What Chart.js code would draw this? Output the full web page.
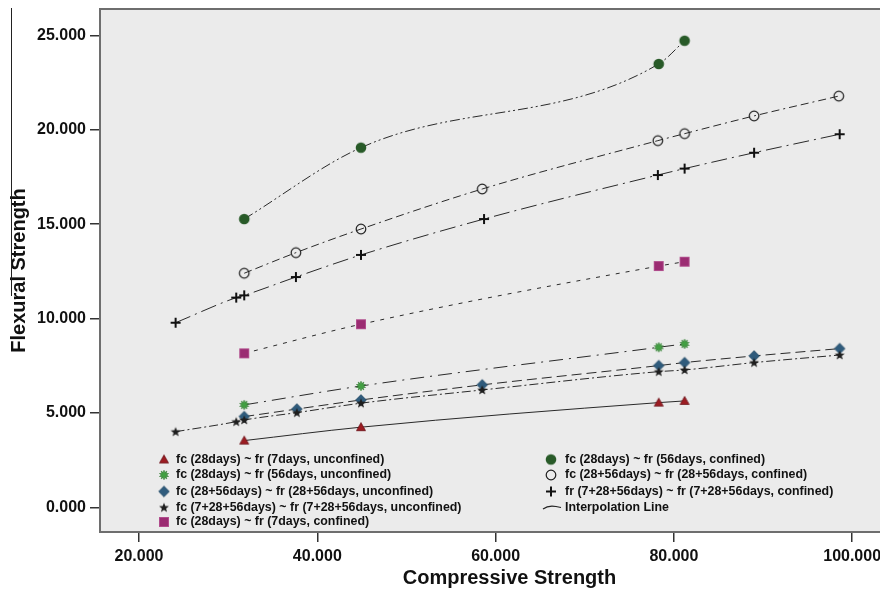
<!DOCTYPE html>
<html>
<head>
<meta charset="utf-8">
<script src="https://cdn.jsdelivr.net/npm/chart.js@4.4.0/dist/chart.umd.min.js"></script>
<style>
  html, body { margin: 0; padding: 0; background: #fff; overflow: hidden; }
  canvas { display: block; }
</style>
</head>
<body>
<canvas id="chart" width="926" height="594"></canvas>
<script>
// axis ticks
const xTicks = [20, 40, 60, 80, 100];
const yTicks = [0, 5, 10, 15, 20, 25];

// fc (28days) ~ fr (7days, unconfined)
const triX = [31.8, 44.9, 78.3, 81.2];
const triY = [3.54, 4.25, 5.55, 5.64];
// fc (28days) ~ fr (56days, unconfined)
const burstX = [31.8, 44.9, 78.3, 81.2];
const burstY = [5.43, 6.43, 8.48, 8.66];
// fc (28+56days) ~ fr (28+56days, unconfined)
const diaX = [31.8, 37.7, 44.9, 58.5, 78.3, 81.2, 89.0, 98.6];
const diaY = [4.81, 5.21, 5.69, 6.49, 7.51, 7.67, 8.02, 8.41];
// fc (7+28+56days) ~ fr (7+28+56days, unconfined)
const starX = [24.1, 30.9, 31.8, 37.7, 44.9, 58.5, 78.3, 81.2, 89.0, 98.6];
const starY = [4.01, 4.54, 4.63, 5.02, 5.52, 6.22, 7.19, 7.28, 7.67, 8.07];
// fc (28days) ~ fr (7days, confined)
const sqX = [31.8, 44.9, 78.3, 81.2];
const sqY = [8.16, 9.70, 12.78, 13.01];
// fc (28days) ~ fr (56days, confined)
const dotX = [31.8, 44.9, 78.3, 81.2];
const dotY = [15.27, 19.05, 23.48, 24.71];
// fc (28+56days) ~ fr (28+56days, confined)
const ringX = [31.8, 37.6, 44.9, 58.5, 78.2, 81.2, 89.0, 98.5];
const ringY = [12.40, 13.49, 14.74, 16.86, 19.42, 19.79, 20.73, 21.78];
// fr (7+28+56days) ~ fr (7+28+56days, confined)
const plusX = [24.1, 30.9, 31.8, 37.6, 44.9, 58.7, 78.2, 81.2, 89.0, 98.6];
const plusY = [9.78, 11.11, 11.23, 12.20, 13.37, 15.27, 17.60, 17.94, 18.78, 19.76];

const labels = [
  'fc (28days) ~ fr (7days, unconfined)',
  'fc (28days) ~ fr (56days, unconfined)',
  'fc (28+56days) ~ fr (28+56days, unconfined)',
  'fc (7+28+56days) ~ fr (7+28+56days, unconfined)',
  'fc (28days) ~ fr (7days, confined)',
  'fc (28days) ~ fr (56days, confined)',
  'fc (28+56days) ~ fr (28+56days, confined)',
  'fr (7+28+56days) ~ fr (7+28+56days, confined)'
];

function starPath(g, cx, cy, n, ro, ri) {
  g.beginPath();
  for (let i = 0; i < n * 2; i++) {
    const r = i % 2 ? ri : ro;
    const a = -Math.PI / 2 + i * Math.PI / n;
    const px = cx + r * Math.cos(a), py = cy + r * Math.sin(a);
    i ? g.lineTo(px, py) : g.moveTo(px, py);
  }
  g.closePath();
}

function marker(kind) {
  const c = document.createElement('canvas');
  c.width = 14; c.height = 14;
  const g = c.getContext('2d');
  if (kind === 'tri') {
    g.beginPath(); g.moveTo(7, 2.5); g.lineTo(11.5, 10.5); g.lineTo(2.5, 10.5); g.closePath();
    g.fillStyle = '#9c1c22'; g.fill(); g.strokeStyle = '#6a1016'; g.lineWidth = 0.8; g.stroke();
  } else if (kind === 'burst') {
    starPath(g, 7, 7, 10, 4.8, 2.6);
    g.fillStyle = '#42a042'; g.fill(); g.strokeStyle = '#2f7a2f'; g.lineWidth = 0.6; g.stroke();
  } else if (kind === 'dia') {
    g.beginPath(); g.moveTo(7, 1.6); g.lineTo(12.4, 7); g.lineTo(7, 12.4); g.lineTo(1.6, 7); g.closePath();
    g.fillStyle = '#2f5b7c'; g.fill(); g.strokeStyle = '#24465f'; g.lineWidth = 0.6; g.stroke();
  } else if (kind === 'star') {
    starPath(g, 7, 7.4, 5, 5.2, 2.2);
    g.fillStyle = '#1e1e1e'; g.fill();
  } else if (kind === 'sq') {
    g.fillStyle = '#9b2c72'; g.fillRect(2, 2, 10, 10);
    g.strokeStyle = '#b65693'; g.lineWidth = 0.8; g.strokeRect(2.4, 2.4, 9.2, 9.2);
  } else if (kind === 'dot') {
    g.beginPath(); g.arc(7, 7, 5.3, 0, Math.PI * 2);
    g.fillStyle = '#285a28'; g.fill();
  } else if (kind === 'ring') {
    g.beginPath(); g.arc(7, 7, 4.8, 0, Math.PI * 2);
    g.strokeStyle = '#1e1e1e'; g.lineWidth = 1.2; g.stroke();
  } else if (kind === 'plus') {
    g.beginPath(); g.moveTo(2, 7); g.lineTo(12, 7); g.moveTo(7, 2); g.lineTo(7, 12);
    g.strokeStyle = '#111'; g.lineWidth = 2; g.stroke();
  }
  return c;
}

const kinds = ['tri', 'burst', 'dia', 'star', 'sq', 'dot', 'ring', 'plus'];
const markers = kinds.map(marker);
const xsAll = [triX, burstX, diaX, starX, sqX, dotX, ringX, plusX];
const ysAll = [triY, burstY, diaY, starY, sqY, dotY, ringY, plusY];
const dashes = [
  [],
  [14, 6, 2, 6],
  [10, 5],
  [9, 3, 2, 3],
  [4, 6],
  [10, 3, 2, 3, 2, 3],
  [8, 4, 8, 4, 2, 4],
  [16, 5, 2, 5]
];

const datasets = kinds.map((k, i) => ({
  label: labels[i],
  data: xsAll[i].map((x, j) => ({ x: x, y: ysAll[i][j] })),
  showLine: true,
  borderColor: '#2a2a2a',
  borderWidth: 1,
  borderDash: dashes[i],
  cubicInterpolationMode: 'monotone',
  pointStyle: markers[i],
  pointRadius: 6,
  order: 8 - i
}));

const frame = {
  id: 'frame',
  beforeDraw(chart) {
    const { ctx, chartArea: a } = chart;
    ctx.save();
    ctx.fillStyle = '#ebebeb';
    ctx.fillRect(a.left, a.top, a.right - a.left, a.bottom - a.top);
    ctx.restore();
  },
  afterDraw(chart) {
    const { ctx, chartArea: a } = chart;
    ctx.save();
    ctx.strokeStyle = '#6e6e6e';
    ctx.lineWidth = 2;
    ctx.beginPath();
    ctx.moveTo(a.right, a.top); ctx.lineTo(a.left, a.top);
    ctx.lineTo(a.left, a.bottom); ctx.lineTo(a.right, a.bottom);
    ctx.stroke();
    // stray rule on the far left
    ctx.strokeStyle = '#222'; ctx.lineWidth = 1;
    ctx.beginPath(); ctx.moveTo(11.5, 8); ctx.lineTo(11.5, 296); ctx.stroke();

    // legend
    ctx.font = 'bold 12.4px "Liberation Sans", Arial, sans-serif';
    ctx.fillStyle = '#111';
    ctx.textBaseline = 'middle';
    const rowsL = [459.5, 475, 491.5, 507.5, 522];
    const rowsR = [459.5, 475, 491.5, 507.5];
    for (let i = 0; i < 5; i++) {
      ctx.drawImage(markers[i], 164 - 7, rowsL[i] - 7);
      ctx.fillText(labels[i], 176, rowsL[i]);
    }
    for (let i = 5; i < 8; i++) {
      ctx.drawImage(markers[i], 551 - 7, rowsR[i - 5] - 7);
      ctx.fillText(labels[i], 565, rowsR[i - 5]);
    }
    ctx.strokeStyle = '#222'; ctx.lineWidth = 1.2;
    ctx.beginPath();
    ctx.moveTo(543, 509);
    ctx.bezierCurveTo(547, 506, 551, 505.5, 556, 506.5);
    ctx.lineTo(561, 507.5);
    ctx.stroke();
    ctx.fillText('Interpolation Line', 565, rowsR[3]);
    ctx.restore();
  }
};

const tickFont = { family: '"Liberation Sans", Arial, sans-serif', size: 16, weight: 'bold' };
const titleFont = { family: '"Liberation Sans", Arial, sans-serif', size: 20, weight: 'bold' };

new Chart(document.getElementById('chart'), {
  type: 'scatter',
  data: { datasets: datasets },
  plugins: [frame],
  options: {
    responsive: false,
    animation: false,
    layout: { padding: { top: 9, left: 0, right: 0, bottom: 0 } },
    plugins: { legend: { display: false }, tooltip: { enabled: false } },
    scales: {
      x: {
        type: 'linear',
        min: 15.62,
        max: 107.5,
        afterFit: s => { s.height = 62; s.paddingLeft = 0; s.paddingRight = 0; },
        afterBuildTicks: s => { s.ticks = xTicks.map(v => ({ value: v })); },
        border: { display: false },
        grid: { drawOnChartArea: false, drawTicks: true, tickLength: 10, color: '#333', lineWidth: 1.5 },
        ticks: { font: tickFont, color: '#111', padding: 5, maxRotation: 0,
                 callback: v => v.toFixed(3) },
        title: { display: true, text: 'Compressive Strength', font: titleFont, color: '#111',
                 padding: { top: 0, bottom: 4 } }
      },
      y: {
        type: 'linear',
        min: -1.30,
        max: 26.39,
        afterFit: s => { s.width = 100; s.paddingTop = 0; s.paddingBottom = 0; },
        afterBuildTicks: s => { s.ticks = yTicks.map(v => ({ value: v })); },
        border: { display: false },
        grid: { drawOnChartArea: false, drawTicks: true, tickLength: 10, color: '#333', lineWidth: 1.5 },
        ticks: { font: tickFont, color: '#111', padding: 4,
                 callback: v => v.toFixed(3) },
        title: { display: true, text: 'Flexural Strength', font: titleFont, color: '#111',
                 padding: { top: 7, bottom: 0 } }
      }
    }
  }
});
</script>
</body>
</html>
